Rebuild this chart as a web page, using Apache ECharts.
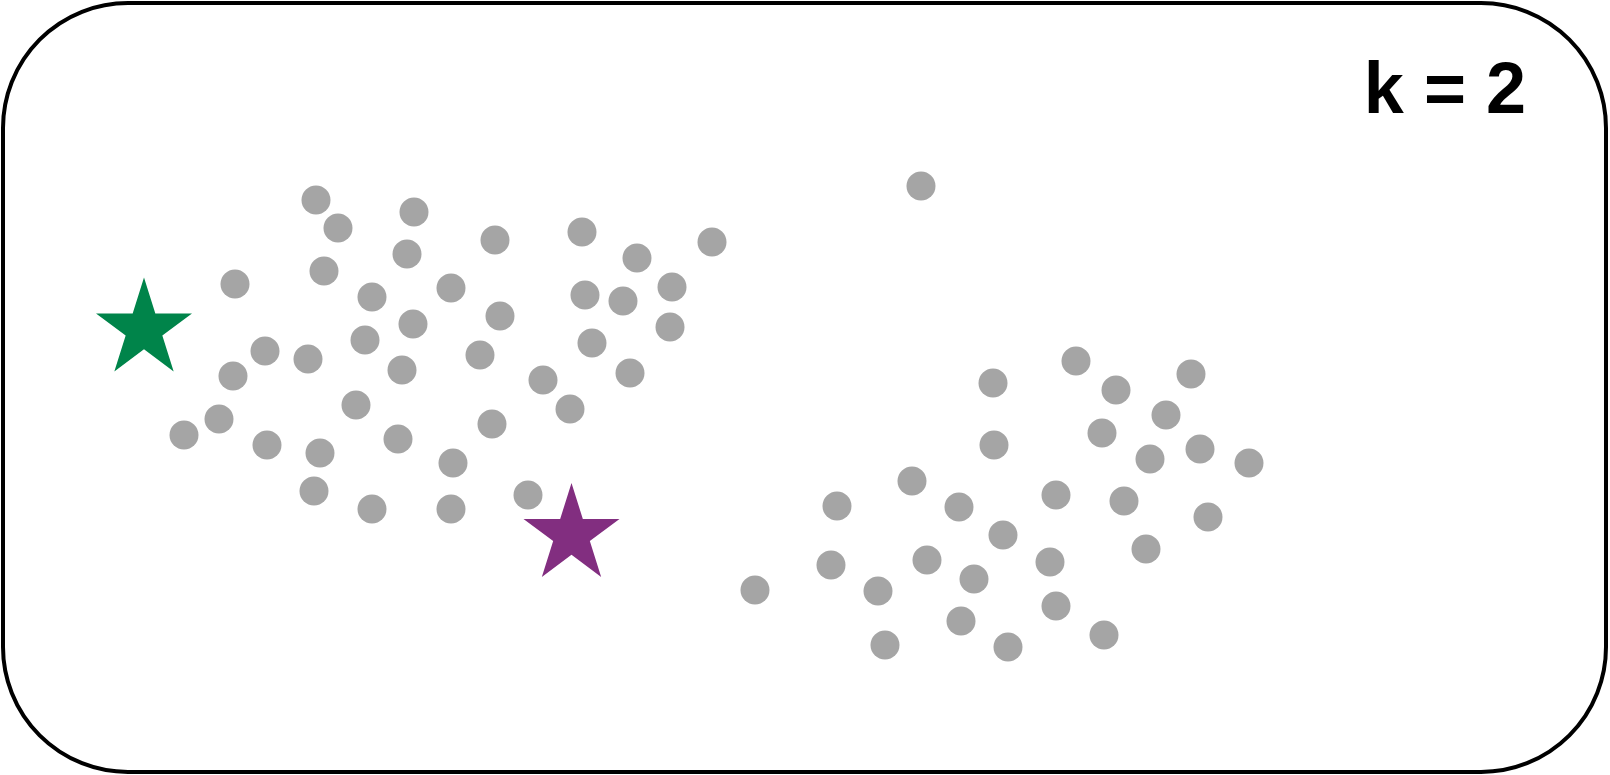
<!DOCTYPE html>
<html>
<head>
<meta charset="utf-8">
<script src="https://cdn.jsdelivr.net/npm/echarts@6/dist/echarts.min.js"></script>
<style>
html,body{margin:0;padding:0;background:#fff;}
#chart{width:1610px;height:775px;}
</style>
</head>
<body>
<div id="chart"></div>
<script>
// Point positions (x, y) in chart units (y grows downward)
const pointsX = [316,338,414,407,324,235,372,451,413,365,265,308,495,582,637,712,500,585,623,672,670,480,592,233,402,356,219,184,267,320,398,453,314,372,451,543,630,570,492,528,
  921,993,994,912,837,959,1003,831,927,878,974,755,961,885,1008,1076,1191,1116,1166,1102,1150,1200,1249,1056,1124,1208,1146,1050,1056,1104];
const pointsY = [200,228,212,254,271,284,297,288,324,340,351,359,240,232,258,242,316,295,301,287,327,355,343,376,370,405,419,435,445,453,439,463,491,509,509,380,373,409,424,495,
  186,383,445,481,506,507,535,565,560,591,579,590,621,645,647,361,374,390,415,433,459,449,463,495,501,517,549,562,606,635];
const centroidNames = ['Centroid 1', 'Centroid 2'];
const centroidX = [144, 571.5];
const centroidY = [324.5, 530];
const centroidColors = ['#00844A', '#822E80'];
const labelText = 'k = 2';

const starPath = 'path://M50,0 L61.23,34.55 L97.55,34.55 L68.16,55.9 L79.39,90.45 L50,69.1 L20.61,90.45 L31.84,55.9 L2.45,34.55 L38.77,34.55 Z';

const chart = echarts.init(document.getElementById('chart'));
chart.setOption({
  animation: false,
  backgroundColor: '#ffffff',
  grid: {left: 0, right: 0, top: 0, bottom: 0},
  xAxis: {type: 'value', min: 0, max: 1610, show: false},
  yAxis: {type: 'value', min: 0, max: 775, inverse: true, show: false},
  graphic: [
    {type: 'rect', shape: {x: 3, y: 3, width: 1603, height: 769, r: 125},
     style: {fill: 'none', stroke: '#000', lineWidth: 4}, z: 0},
    {type: 'text', right: 84, top: 57,
     style: {text: labelText, font: 'bold 72px "Liberation Sans", Arial, sans-serif', fill: '#000'}}
  ],
  series: [
    {type: 'scatter', symbol: 'circle', symbolSize: 29,
     itemStyle: {color: '#A5A5A5', opacity: 1},
     data: pointsX.map((x, i) => [x, pointsY[i]])},
    {type: 'scatter', symbol: starPath, symbolSize: [96, 94], symbolKeepAspect: false,
     data: centroidX.map((x, i) => ({name: centroidNames[i], value: [x, centroidY[i]], itemStyle: {color: centroidColors[i], opacity: 1}}))}
  ]
});
</script>
</body>
</html>
